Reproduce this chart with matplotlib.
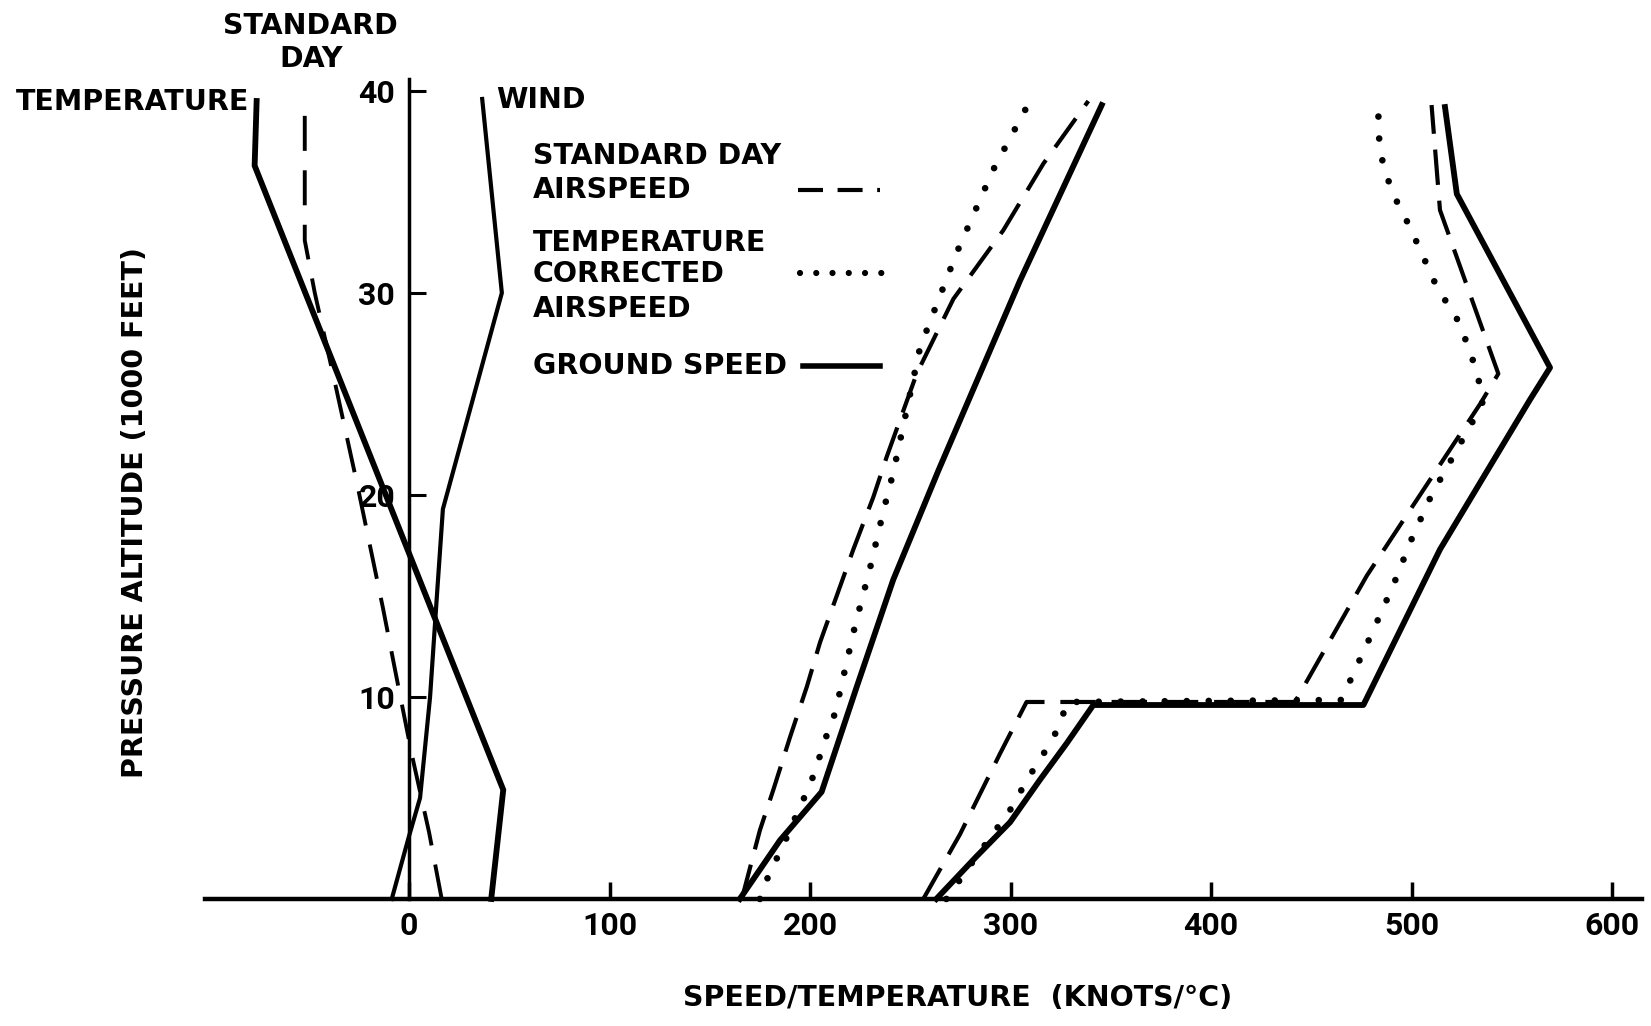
import matplotlib
matplotlib.use("Agg")
import matplotlib.pyplot as plt
from matplotlib.lines import Line2D

# --- data (x = knots or deg C, y = altitude in 1000 ft) ---
temp_val = [41, 47, -77, -76]
temp_alt = [0, 5.4, 36.3, 39.5]

std_temp_val = [16.3, 10, 1.5, -5.3, -13, -26, -36.6, -47, -52, -52]
std_temp_alt = [0, 3.3, 7.1, 10.5, 14.4, 20.6, 25.4, 30, 32.6, 39.6]

wind_val = [-8.6, -0.3, 5.5, 10.5, 13.8, 16.9, 46.3, 36.5]
wind_alt = [0, 3, 5, 10, 14.85, 19.3, 30, 39.6]

# climb profile
gs1_val = [165, 185, 205.8, 223.3, 241.5, 264, 304.7, 345.5]
gs1_alt = [0, 2.9, 5.3, 10.5, 15.8, 21.2, 30.6, 39.3]

sd1_val = [166, 175, 181.7, 190, 198.4, 205, 213.3, 221.6, 231.6, 238.3,
           253.2, 271.5, 296.4, 316.4, 338.8]
sd1_alt = [0, 3.4, 5.4, 8.0, 10.5, 12.7, 15.0, 17.3, 19.9, 21.9,
           26.0, 29.7, 33.1, 36.4, 39.5]

tc1_val = [175, 180, 186, 193.4, 197.5, 201.7, 208.3, 212.5, 222.4, 230,
           236.6, 241.5, 254.9, 273.2, 291.4, 309.7]
tc1_alt = [0, 1.35, 2.5, 4.2, 5.1, 6.1, 8.1, 9.2, 13.5, 16.4,
           19.2, 21.1, 27.3, 32.0, 36.1, 39.5]

# second profile (level at ~10k then climb)
gs2_val = [263, 283, 299.8, 314.7, 328, 341.3, 476, 514.2, 559, 569.1, 522.6, 516.7]
gs2_alt = [0, 2.1, 3.8, 5.9, 7.7, 9.6, 9.6, 17.3, 24.7, 26.3, 34.9, 39.2]

sd2_val = [256.5, 274.8, 294.8, 308, 441.9, 477.7, 502.6, 534.2, 543.3, 514.2, 510]
sd2_alt = [0, 3.2, 7.2, 9.75, 9.75, 16.0, 19.75, 24.5, 26.0, 34.1, 39.3]

tc2_val = [268, 283, 288.9, 299.8, 308.9, 317.2, 324.7, 328, 465, 480, 490.8,
           500, 510, 535.4, 533, 524, 512.6, 499, 491.8, 486, 483.5, 483.5]
tc2_alt = [0, 2.1, 2.9, 4.4, 6.0, 7.3, 8.6, 9.75, 9.85, 13.1, 15.5,
           17.8, 20.0, 24.5, 26.0, 28.5, 30.3, 33.3, 34.7, 36.2, 37.9, 38.8]

x_ticks = [0, 100, 200, 300, 400, 500, 600]
y_ticks = [10, 20, 30, 40]

W, H = 1651, 1026
fig = plt.figure(figsize=(W / 100, H / 100), dpi=100)
ax = fig.add_axes([0, 0, 1, 1])
ax.set_xlim(-204.0, 619.45)
ax.set_ylim(-6.29, 44.5)

for s in ["top", "right"]:
    ax.spines[s].set_visible(False)
ax.spines["left"].set_position(("data", 0))
ax.spines["left"].set_bounds(0, 40.6)
ax.spines["left"].set_linewidth(2.5)
ax.spines["bottom"].set_position(("data", 0))
ax.spines["bottom"].set_bounds(-101.7, 615)
ax.spines["bottom"].set_linewidth(3.2)

ax.set_xticks(x_ticks)
ax.set_yticks(y_ticks)
ax.tick_params(axis="x", direction="in", length=12, width=2.5, pad=9,
               labelsize=23, labelfontfamily=["Roboto", "DejaVu Sans"])
ax.tick_params(axis="y", direction="in", length=12, width=2.2, pad=10,
               labelsize=23, labelfontfamily=["Roboto", "DejaVu Sans"])
for lbl in ax.get_xticklabels() + ax.get_yticklabels():
    lbl.set_fontweight("bold")

dash_style = (0, (8.5, 3.8))
dot_style = (0, (0.001, 3.3))

# temperature / wind
ax.plot(temp_val, temp_alt, color="black", lw=4.2, solid_joinstyle="miter")
ax.plot(std_temp_val, std_temp_alt, color="black", lw=2.8, linestyle=(0, (9, 5)))
ax.plot(wind_val, wind_alt, color="black", lw=3.0)

# speeds
for v, a in [(sd1_val, sd1_alt), (sd2_val, sd2_alt)]:
    ax.plot(v, a, color="black", lw=3.0, linestyle=dash_style)
for v, a in [(tc1_val, tc1_alt), (tc2_val, tc2_alt)]:
    ax.plot(v, a, color="black", lw=4.8, linestyle=dot_style, dash_capstyle="round")
for v, a in [(gs1_val, gs1_alt), (gs2_val, gs2_alt)]:
    ax.plot(v, a, color="black", lw=4.2)


def ftext(x, y, s, ha="left", **kw):
    fig.text(x / W, 1 - y / H, s, ha=ha, va="center", fontsize=20.5,
             fontweight="bold", **kw)


ftext(310, 26, "STANDARD", ha="center")
ftext(311, 59, "DAY", ha="center")
ftext(16, 102, "TEMPERATURE")
ftext(496, 100, "WIND")

ftext(533, 155.5, "STANDARD DAY")
ftext(533, 190, "AIRSPEED")
ftext(533, 242.5, "TEMPERATURE")
ftext(533, 274, "CORRECTED")
ftext(533, 309, "AIRSPEED")
ftext(533, 366, "GROUND SPEED")

# legend samples
fig.add_artist(Line2D([798 / W, 880 / W], [1 - 190 / H] * 2, transform=fig.transFigure,
                      color="black", lw=3.0, linestyle=(0, (6, 3.5))))
fig.add_artist(Line2D([800 / W, 882 / W], [1 - 273 / H] * 2, transform=fig.transFigure,
                      color="black", lw=4.5, linestyle=(0, (0.001, 2.6)),
                      dash_capstyle="round"))
fig.add_artist(Line2D([803 / W, 880 / W], [1 - 366 / H] * 2, transform=fig.transFigure,
                      color="black", lw=4.0))

ftext(958, 998, "SPEED/TEMPERATURE  (KNOTS/°C)", ha="center")
fig.text(135 / W, 1 - 512 / H, "PRESSURE ALTITUDE (1000 FEET)", ha="center",
         va="center", rotation=90, fontsize=20.5, fontweight="bold")

fig.savefig("out.png", dpi=100)
